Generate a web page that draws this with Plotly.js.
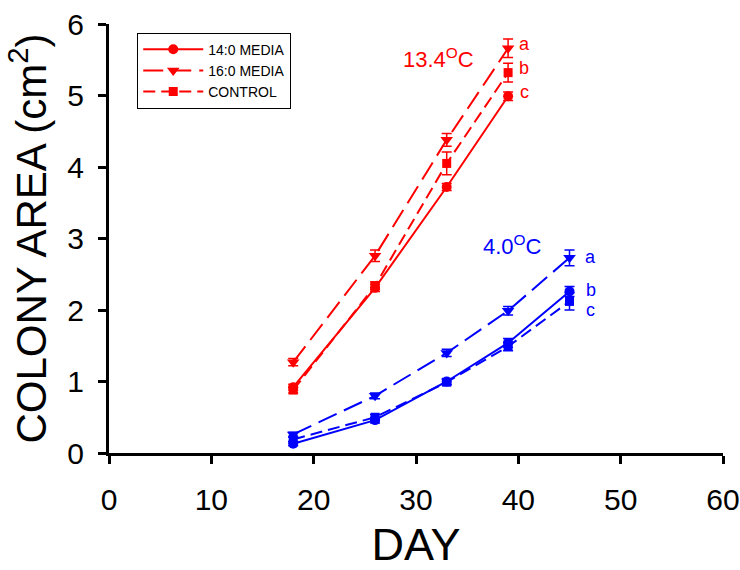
<!DOCTYPE html>
<html>
<head>
<meta charset="utf-8">
<script src="https://cdn.plot.ly/plotly-3.0.1.min.js"></script>
<style>
  html, body { margin: 0; padding: 0; background: #fff; }
  #chart { width: 740px; height: 570px; }
</style>
</head>
<body>
<div id="chart"></div>
<script>
// Colony area vs day, two temperatures, three media
const daysWarm = [18, 26, 33, 39];
const daysCold = [18, 26, 33, 39, 45];

const warm140 = [0.92, 2.31, 3.72, 4.99];
const warm140Err = [0.04, 0.05, 0.05, 0.06];
const warm160 = [1.27, 2.76, 4.38, 5.66];
const warm160Err = [0.05, 0.08, 0.09, 0.13];
const warmCtrl = [0.88, 2.34, 4.05, 5.32];
const warmCtrlErr = [0.04, 0.05, 0.16, 0.13];

const cold140 = [0.13, 0.46, 1.00, 1.54, 2.26];
const cold140Err = [0.03, 0.04, 0.04, 0.06, 0.07];
const cold160 = [0.26, 0.80, 1.40, 1.99, 2.73];
const cold160Err = [0.03, 0.04, 0.05, 0.06, 0.11];
const coldCtrl = [0.19, 0.50, 0.99, 1.49, 2.12];
const coldCtrlErr = [0.03, 0.04, 0.04, 0.06, 0.12];

const seriesNames = ['14:0 MEDIA', '16:0 MEDIA', 'CONTROL'];
const xTicks = [0, 10, 20, 30, 40, 50, 60];
const yTicks = [0, 1, 2, 3, 4, 5, 6];

const RED = '#ff0000';
const BLUE = '#0000ff';

function serie(x, y, err, name, color, dash, symbol, size, showLegend) {
  return {
    type: 'scatter',
    mode: 'lines+markers',
    x: x,
    y: y,
    name: name,
    showlegend: showLegend,
    line: { color: color, width: 2, dash: dash },
    marker: { color: color, size: size, symbol: symbol },
    error_y: { type: 'data', array: err, visible: true, color: color, thickness: 1.5, width: 5 },
  };
}

const DASH_LARGO = '20px,8px';
const DASH_CORTO = '12px,6px';

const datos = [
  serie(daysWarm, warm140, warm140Err, seriesNames[0], RED, 'solid', 'circle', 10, true),
  serie(daysWarm, warm160, warm160Err, seriesNames[1], RED, DASH_LARGO, 'triangle-down', 11, true),
  serie(daysWarm, warmCtrl, warmCtrlErr, seriesNames[2], RED, DASH_CORTO, 'square', 9, true),
  serie(daysCold, cold140, cold140Err, seriesNames[0], BLUE, 'solid', 'circle', 10, false),
  serie(daysCold, cold160, cold160Err, seriesNames[1], BLUE, DASH_LARGO, 'triangle-down', 11, false),
  serie(daysCold, coldCtrl, coldCtrlErr, seriesNames[2], BLUE, DASH_CORTO, 'square', 9, false),
];

const FONT = 'Liberation Sans, Arial, sans-serif';

function etiqueta(x, y, text, color, size) {
  return {
    x: x, y: y, xref: 'x', yref: 'y', text: text, showarrow: false,
    font: { family: FONT, size: size, color: color },
    xanchor: 'center', yanchor: 'middle',
  };
}

const layout = {
  width: 740,
  height: 570,
  margin: { l: 109, r: 17, t: 24, b: 117 },
  paper_bgcolor: '#fff',
  plot_bgcolor: '#fff',
  font: { family: FONT, color: '#000' },
  showlegend: true,
  legend: {
    x: 0.046, y: 0.98, xanchor: 'left', yanchor: 'top',
    bgcolor: '#fff', bordercolor: '#000', borderwidth: 1,
    font: { family: FONT, size: 14, color: '#000' },
    itemwidth: 60,
    tracegroupgap: 0,
  },
  xaxis: {
    range: [0, 60],
    tickvals: xTicks,
    ticks: 'outside', ticklen: 8, tickwidth: 3, tickcolor: '#000',
    ticklabelstandoff: 10,
    showline: true, linecolor: '#000', linewidth: 3,
    showgrid: false, zeroline: false,
    tickfont: { family: FONT, size: 30, color: '#000' },
    title: { text: 'DAY', font: { family: FONT, size: 45, color: '#000' }, standoff: 19 },
  },
  yaxis: {
    range: [0, 6],
    tickvals: yTicks,
    ticks: 'outside', ticklen: 8, tickwidth: 3, tickcolor: '#000',
    ticklabelstandoff: 8,
    showline: true, linecolor: '#000', linewidth: 3,
    showgrid: false, zeroline: false,
    tickfont: { family: FONT, size: 30, color: '#000' },
    title: { text: 'COLONY AREA (cm<sup>2</sup>)', font: { family: FONT, size: 42, color: '#000' }, standoff: 8 },
  },
  annotations: [
    etiqueta(32.2, 5.52, '13.4<sup>O</sup>C', RED, 22),
    etiqueta(39.4, 2.91, '4.0<sup>O</sup>C', BLUE, 22),
    etiqueta(40.6, 5.72, 'a', RED, 18),
    etiqueta(40.6, 5.38, 'b', RED, 18),
    etiqueta(40.6, 5.05, 'c', RED, 18),
    etiqueta(47.1, 2.74, 'a', BLUE, 18),
    etiqueta(47.1, 2.28, 'b', BLUE, 18),
    etiqueta(47.1, 2.00, 'c', BLUE, 18),
  ],
};

Plotly.newPlot('chart', datos, layout, { displayModeBar: false, responsive: false });
</script>
</body>
</html>
